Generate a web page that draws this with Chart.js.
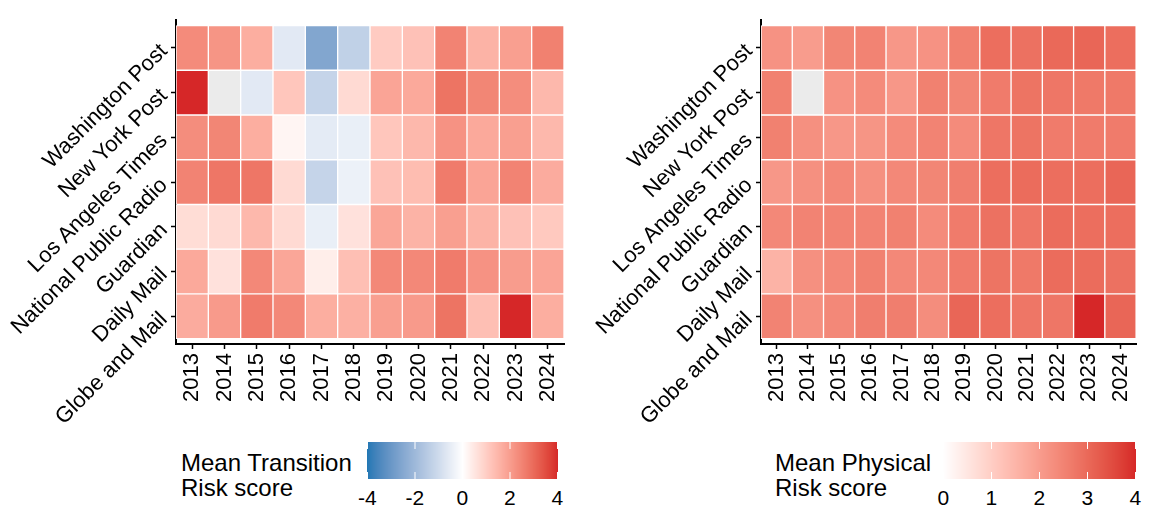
<!DOCTYPE html>
<html><head><meta charset="utf-8">
<script src="https://cdn.jsdelivr.net/npm/chart.js@4.4.1/dist/chart.umd.min.js"></script>
<style>
html,body{margin:0;padding:0;background:#fff;width:1151px;height:506px;overflow:hidden;position:relative;font-family:"Liberation Sans",Arial,sans-serif;}
.box{position:absolute;}
.title{position:absolute;font-size:24px;line-height:25px;color:#000;white-space:nowrap;}
.lab{position:absolute;font-size:21px;line-height:21px;color:#000;white-space:nowrap;}
</style></head><body>
<div class="box" style="left:0;top:0;"><canvas id="c1" width="580" height="440"></canvas></div>
<div class="box" style="left:585px;top:0;"><canvas id="c2" width="566" height="440"></canvas></div>
<canvas id="cb1" class="box" style="left:367px;top:442px;" width="191" height="37"></canvas>
<canvas id="cb2" class="box" style="left:943px;top:442px;" width="193" height="37"></canvas>
<div class="title" style="left:181px;top:450px;">Mean Transition<br>Risk score</div>
<div class="title" style="left:775px;top:450px;">Mean Physical<br>Risk score</div>
<div id="labs"></div>
<script>
// ---------- DATA ----------
const years = ['2013','2014','2015','2016','2017','2018','2019','2020','2021','2022','2023','2024'];
const outlets = ['Washington Post','New York Post','Los Angeles Times','National Public Radio','Guardian','Daily Mail','Globe and Mail'];

// Mean Transition Risk score (null = no data)
const transWashingtonPost = [2.35, 2.15, 1.65, -0.6, -2.55, -1.3, 1.05, 1.25, 2.5, 1.55, 1.95, 2.55];
const transNewYorkPost    = [4.0, null, -0.6, 1.15, -1.2, 0.75, 1.85, 1.75, 2.8, 2.45, 2.3, 1.45];
const transLATimes        = [2.3, 2.45, 1.65, 0.2, -0.55, -0.45, 1.15, 1.45, 2.2, 1.75, 1.95, 1.45];
const transNPR            = [2.5, 2.75, 2.75, 0.75, -1.2, -0.4, 1.25, 1.35, 2.65, 1.85, 2.5, 1.7];
const transGuardian       = [0.7, 0.75, 1.45, 0.75, -0.45, 0.6, 1.8, 1.55, 1.95, 1.55, 1.25, 1.1];
const transDailyMail      = [1.75, 0.6, 2.4, 1.8, 0.35, 1.3, 2.4, 2.4, 2.65, 2.2, 2.0, 1.85];
const transGlobeAndMail   = [1.7, 2.05, 2.65, 2.4, 1.65, 1.6, 1.95, 2.05, 2.8, 1.3, 4.0, 1.65];

// Mean Physical Risk score (null = no data)
const physWashingtonPost = [2.2, 2.0, 2.45, 2.5, 2.1, 2.2, 2.55, 2.9, 2.85, 3.0, 3.05, 2.9];
const physNewYorkPost    = [2.55, null, 2.2, 2.35, 2.1, 2.55, 2.45, 2.65, 2.8, 2.75, 2.7, 2.7];
const physLATimes        = [2.55, 2.25, 2.1, 2.15, 2.35, 2.5, 2.35, 2.75, 2.8, 2.65, 2.65, 2.65];
const physNPR            = [2.1, 2.25, 2.4, 2.25, 2.4, 2.45, 2.6, 2.9, 2.95, 2.9, 2.9, 3.05];
const physGuardian       = [2.4, 2.5, 2.5, 2.5, 2.55, 2.35, 2.65, 2.85, 2.75, 2.95, 2.9, 2.9];
const physDailyMail      = [1.55, 2.25, 2.4, 2.55, 2.4, 2.4, 2.65, 2.8, 2.7, 2.95, 2.95, 2.85];
const physGlobeAndMail   = [2.5, 2.25, 2.4, 2.6, 2.6, 2.3, 3.05, 2.9, 2.75, 2.75, 4.0, 3.05];

const transTicks = [-4, -2, 0, 2, 4];
const physTicks = [0, 1, 2, 3, 4];

const transRows = [transWashingtonPost, transNewYorkPost, transLATimes, transNPR, transGuardian, transDailyMail, transGlobeAndMail];
const physRows = [physWashingtonPost, physNewYorkPost, physLATimes, physNPR, physGuardian, physDailyMail, physGlobeAndMail];

// ---------- COLOUR (Lab interpolation like ggplot) ----------
function hex2rgb(h){h=h.replace('#','');return [0,2,4].map(i=>parseInt(h.substr(i,2),16));}
function s2l(c){c/=255;return c<=0.04045?c/12.92:Math.pow((c+0.055)/1.055,2.4);}
function l2s(c){c=c<=0.0031308?12.92*c:1.055*Math.pow(c,1/2.4)-0.055;return Math.round(Math.max(0,Math.min(1,c))*255);}
const Xn=0.95047,Yn=1,Zn=1.08883;
function f(t){return t>0.008856?Math.cbrt(t):7.787*t+16/116;}
function fi(t){return t>0.206893?t*t*t:(t-16/116)/7.787;}
function rgb2lab(rgb){const [r,g,b]=rgb.map(s2l);
  const X=0.4124*r+0.3576*g+0.1805*b, Y=0.2126*r+0.7152*g+0.0722*b, Z=0.0193*r+0.1192*g+0.9505*b;
  const fx=f(X/Xn),fy=f(Y/Yn),fz=f(Z/Zn);return [116*fy-16,500*(fx-fy),200*(fy-fz)];}
function lab2hex(lab){const fy=(lab[0]+16)/116,fx=fy+lab[1]/500,fz=fy-lab[2]/200;
  const X=Xn*fi(fx),Y=Yn*fi(fy),Z=Zn*fi(fz);
  const r=3.2406*X-1.5372*Y-0.4986*Z,g=-0.9689*X+1.8758*Y+0.0415*Z,b=0.0557*X-0.2040*Y+1.0570*Z;
  return 'rgb('+l2s(r)+','+l2s(g)+','+l2s(b)+')';}
const LOW=rgb2lab(hex2rgb('#1F77B4')), MID=rgb2lab(hex2rgb('#FFFFFF')), HIGH=rgb2lab(hex2rgb('#D62728'));
function mix(a,b,t){t=Math.max(0,Math.min(1,t));return lab2hex(a.map((v,i)=>v+(b[i]-v)*t));}
const NA_COLOR='#EBEBEB';
function transColor(v){if(v===null)return NA_COLOR;return v>=0?mix(MID,HIGH,v/4):mix(MID,LOW,-v/4);}
function physColor(v){if(v===null)return NA_COLOR;return mix(MID,HIGH,v/4);}

// ---------- CHARTS ----------
const FONT='"Liberation Sans", Arial, sans-serif';
function makeChart(id, rows, colorFn, padRight){
  const datasets = rows.map((vals, r) => ({
    label: outlets[r],
    data: years.map(() => [r - 0.5, r + 0.5]),
    backgroundColor: vals.map(colorFn),
    borderColor: '#ffffff',
    borderWidth: 1,
    borderSkipped: false,
    barPercentage: 1,
    categoryPercentage: 1,
    grouped: false
  }));
  return new Chart(document.getElementById(id), {
    type: 'bar',
    data: { labels: years, datasets },
    options: {
      responsive: false, animation: false,
      layout: { padding: { top: 11, right: padRight, left: 0, bottom: 0 } },
      plugins: { legend: { display: false }, tooltip: { enabled: false } },
      scales: {
        x: {
          type: 'category', offset: true,
          grid: { display: true, drawOnChartArea: false, drawTicks: true, tickLength: 5, tickColor: '#000', tickWidth: 1.5, offset: false },
          border: { display: true, color: '#000', width: 2 },
          ticks: { font: { size: 22, family: FONT }, color: '#000', padding: 4, minRotation: 90, maxRotation: 90, autoSkip: false },
          afterFit: s => { s.height = 96; }
        },
        y: {
          type: 'linear', reverse: true, min: -0.62, max: 6.62,
          afterBuildTicks: s => { s.ticks = outlets.map((o, i) => ({ value: i })); },
          grid: { display: true, drawOnChartArea: false, drawTicks: true, tickLength: 5, tickColor: '#000', tickWidth: 1.5 },
          border: { display: true, color: '#000', width: 2 },
          ticks: { font: { size: 22, family: FONT }, color: '#000', padding: 7, minRotation: 45, maxRotation: 45, align: 'center', autoSkip: false,
                   callback: v => outlets[v] },
          afterFit: s => { s.width = 176; }
        }
      }
    }
  });
}
makeChart('c1', transRows, transColor, 16);
makeChart('c2', physRows, physColor, 3);

// ---------- COLOUR BARS ----------
function colorbar(id, lo, hi, ticks, colorFn, left){
  const cv = document.getElementById(id), ctx = cv.getContext('2d');
  const W = cv.width, H = cv.height;
  for (let x = 0; x < W; x++) {
    ctx.fillStyle = colorFn(lo + (hi - lo) * (x + 0.5) / W);
    ctx.fillRect(x, 0, 1, H);
  }
  ctx.strokeStyle = '#fff'; ctx.lineWidth = 1;
  const labs = document.getElementById('labs');
  ticks.forEach(t => {
    const px = (t - lo) / (hi - lo) * (W - 1) + 0.5;
    ctx.beginPath(); ctx.moveTo(px, 0); ctx.lineTo(px, 7); ctx.moveTo(px, H - 7); ctx.lineTo(px, H); ctx.stroke();
    const d = document.createElement('div');
    d.className = 'lab';
    d.textContent = t < 0 ? '-' + Math.abs(t) : String(t);
    d.style.top = '487px';
    labs.appendChild(d);
    d.style.left = (left + px - d.offsetWidth / 2) + 'px';
  });
}
colorbar('cb1', -4, 4, transTicks, transColor, 367);
colorbar('cb2', 0, 4, physTicks, physColor, 943);
</script>
</body></html>
